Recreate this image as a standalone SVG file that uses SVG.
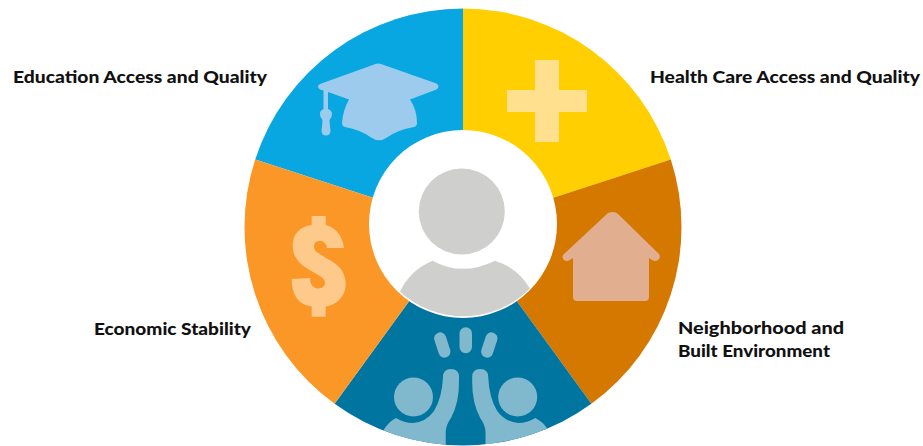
<svg xmlns="http://www.w3.org/2000/svg" width="923" height="446" viewBox="0 0 923 446">
<style>
text{font-family:"Lato","Liberation Sans",sans-serif;font-weight:900;font-size:17.500px;fill:#111}
.i1{fill:#9ccbee}.i2{fill:#fee08f}.i3{fill:#e2ae90}.i4{fill:#80b8cd}.i5{fill:#fdca8b}
</style>
<rect width="923" height="446" fill="#fff"/>
<g id="slice-education"><path d="M463 227V8.500A218.500 218.500 0 0 0 255.200 159.500Z" fill="#09a7e1"/>
<path class="i1" d="M375.500 64Q378 63 381 64L436.500 83.500Q440.500 86.700 436.500 89.500L410 99.500Q417 110 417 123Q417 126 414 127Q397 130 387 137.500Q379 143 371 137.500Q361 130 345 127Q342 126 342 123Q343 110 349 99.500L328 92V109Q333.500 111 331.500 117Q329.500 119 329.500 121L330.500 131Q330 135.500 326 135.500Q322 135.500 321.500 131L322.500 121Q322.500 119 320.500 117Q318.500 111 323.500 109V90.500L320 89.500Q316 86.700 320 84Z"/>
</g>
<g id="slice-health"><path d="M463 227V8.500A218.500 218.500 0 0 1 670.800 159.500Z" fill="#ffcf01"/>
<path class="i2" d="M535 60H559V90H587V112H559V142H535V112H507V90H535Z"/></g>
<g id="slice-neighborhood"><path d="M463 227L670.800 159.500A218.500 218.500 0 0 1 591.400 403.800Z" fill="#d57800"/>
<path class="i3" d="M608 213Q610 212 613 212Q616 212 618 214L659 254Q661 258 658 260Q655 262 652 260L649 258V297Q649 301 645 301H577Q573 301 573 297V258L570 260Q567 262 564 260Q561 257 564 254Z"/></g>
<g id="slice-social"><path d="M463 227L591.400 403.800A218.500 218.500 0 0 1 334.600 403.800Z" fill="#00759f"/>
<g class="i4">
<rect x="459.500" y="327.300" width="12.500" height="26" rx="6.200"/>
<rect x="436.300" y="332" width="12" height="26" rx="6" transform="rotate(-18 442.300 345)"/>
<rect x="483.300" y="332" width="12" height="26" rx="6" transform="rotate(18 489.300 345)"/>
<circle cx="413.500" cy="397" r="19.500"/><circle cx="517.700" cy="397" r="19.500"/>
<path d="M443 377Q443 369 451 369Q459 369 459 377V380Q459.500 402 451 418Q446 425 445.700 432V444.800A218.500 218.500 0 0 1 383.500 430.500Q388 422 396 418Q404 423 413 423Q426 422 434 411Q442 398 443 377Z"/>
<path d="M488.200 377Q488.200 369 480.200 369Q472.200 369 472.200 377V380Q471.700 402 480.200 418Q485.200 425 485.500 432V444.300A218.500 218.500 0 0 0 547.200 428.600Q543.200 422 535.200 418Q527.200 423 518.200 423Q505.200 422 497.200 411Q489.200 398 488.200 377Z"/>
</g></g>
<g id="slice-economic"><path d="M463 227L334.600 403.800A218.500 218.500 0 0 1 255.200 159.500Z" fill="#fb9726"/>
<path class="i5" d="M311.700 216H325.700V225C335 227 343 236 344 248H326.700C327 243 323 241 319.500 241C315 241 314 244 314 247C314 251 318 253 326 258C338 264 345.700 271 345.700 284C345.700 297 336 305 325.700 306.500V316.700H311.700V306.500C299 305 291.700 296 291.700 279L310 278C310 285 314 288.500 318 288.500C323 288.500 325 285.500 325 283C325 278 320 276 313 272C300 265 292.700 258 292.700 245C292.700 234 300 226.500 311.700 225Z"/></g>
<g id="person"><circle cx="463" cy="224" r="94" fill="#fff"/>
<circle cx="461.800" cy="211.500" r="43" fill="#cfcfce"/>
<path d="M432.700 260.700Q462 277 495 260.700Q518 268 530 288.500A94 94 0 0 1 400 291.700Q410 270 432.700 260.700Z" fill="#cfcfce"/></g>
<g id="labels">
<text x="13" y="83" textLength="254" lengthAdjust="spacingAndGlyphs">Education Access and Quality</text>
<text x="650" y="83" textLength="270" lengthAdjust="spacingAndGlyphs">Health Care Access and Quality</text>
<text x="94" y="335" textLength="157" lengthAdjust="spacingAndGlyphs">Economic Stability</text>
<text x="678" y="334" textLength="166" lengthAdjust="spacingAndGlyphs">Neighborhood and</text>
<text x="678" y="357" textLength="152" lengthAdjust="spacingAndGlyphs">Built Environment</text>
</g>
</svg>
